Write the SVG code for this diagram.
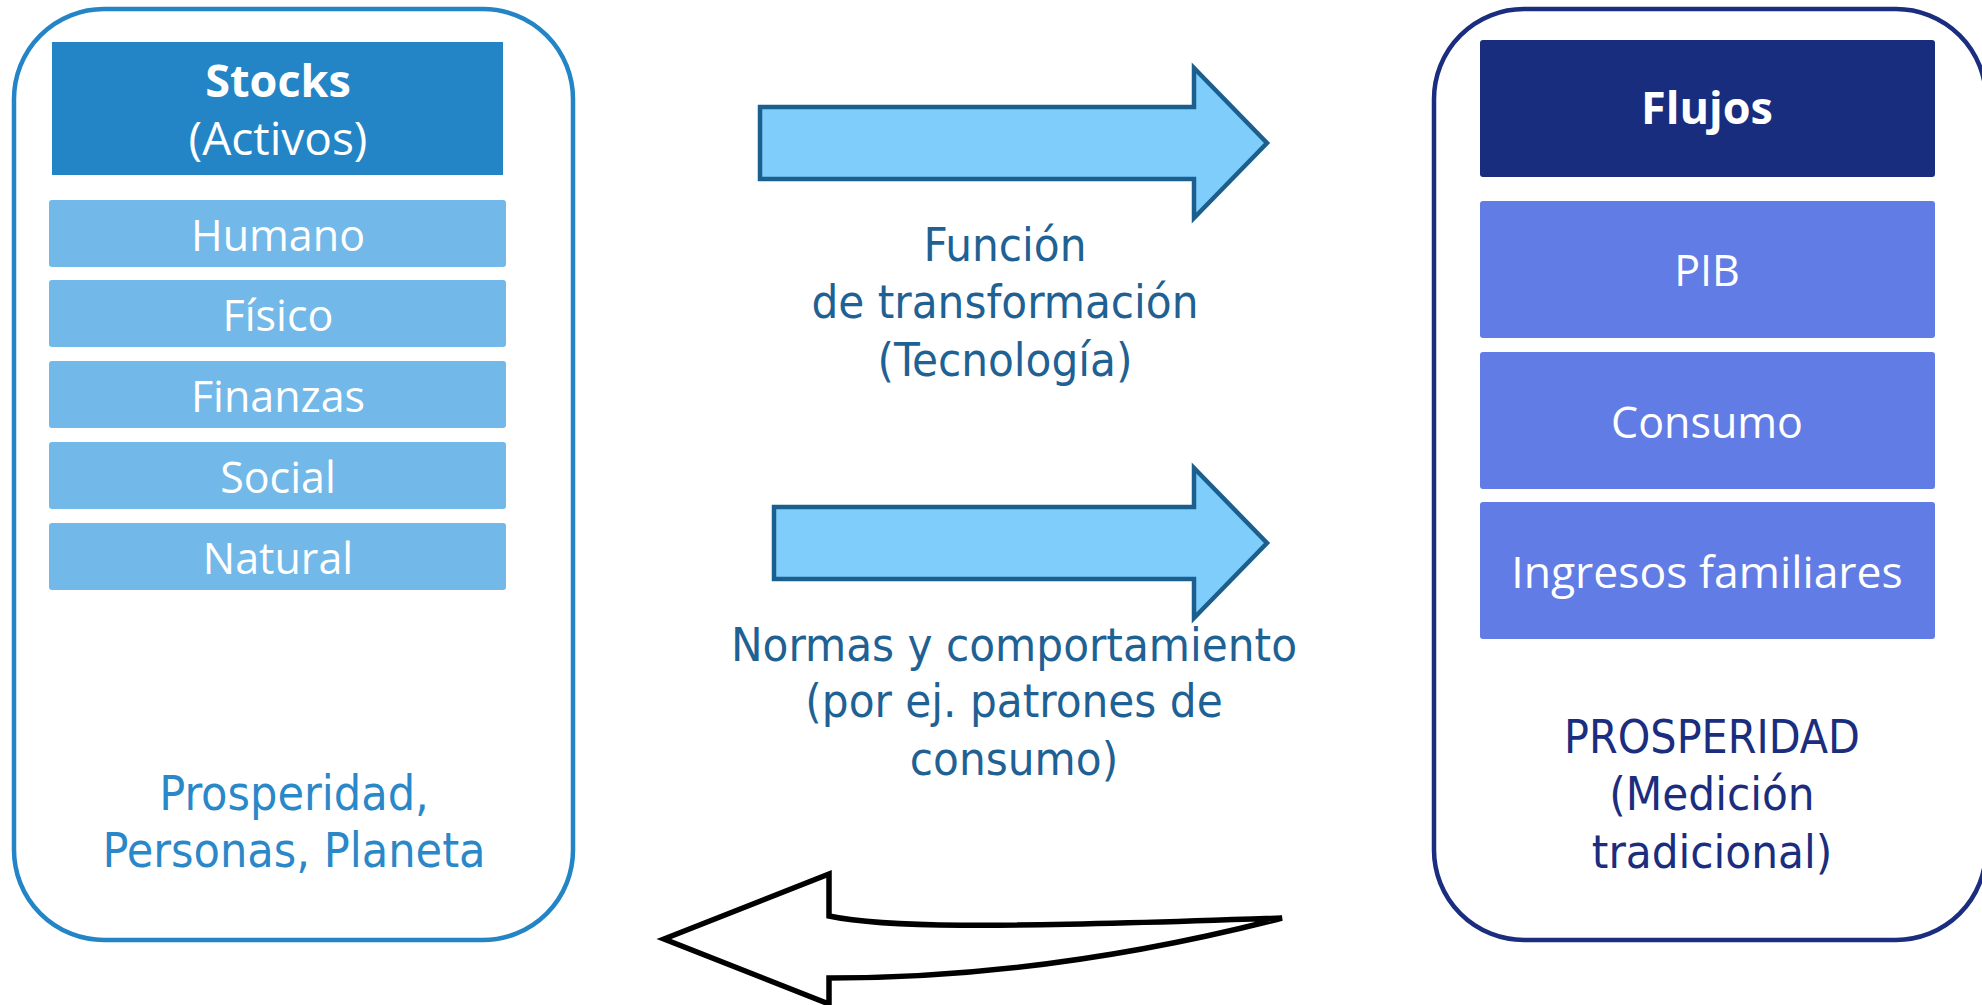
<svg xmlns="http://www.w3.org/2000/svg" width="1982" height="1005" viewBox="0 0 1982 1005">
<style>
.wt{font-family:"Open Sans","Noto Sans","DejaVu Sans",sans-serif;fill:#ffffff;text-anchor:middle;font-size:43px}
.hd{font-size:45px}
.bd{font-weight:bold}
.ct{font-family:"DejaVu Sans Condensed","DejaVu Sans",sans-serif;font-stretch:condensed;text-anchor:middle;font-size:47px}
.item-l{fill:#72B8E8}
.item-r{fill:#617CE5}
.barrow{fill:#7FCDFB;stroke:#1B5F8F;stroke-width:4.5;stroke-linejoin:miter}
</style>
<rect width="1982" height="1005" fill="#ffffff"/>

<g id="stocks-panel">
  <rect x="14" y="9" width="559" height="931" rx="90" ry="90" fill="#ffffff" stroke="#2385C6" stroke-width="4.5"/>
  <text class="ct" x="294" y="810" fill="#2A88C8" style="font-size:48px">Prosperidad,</text>
  <text class="ct" x="294" y="867" fill="#2A88C8" style="font-size:48px">Personas, Planeta</text>
</g>
<g id="stocks-header">
  <rect x="52" y="42" width="451" height="133" fill="#2385C6"/>
  <text class="wt hd bd" x="278" y="97">Stocks</text>
  <text class="wt hd" x="278" y="155" style="font-size:46px">(Activos)</text>
</g>
<g id="humano">
  <rect class="item-l" x="49" y="200" width="457" height="67" rx="3"/>
  <text class="wt" x="278" y="251">Humano</text>
</g>
<g id="fisico">
  <rect class="item-l" x="49" y="280" width="457" height="67" rx="3"/>
  <text class="wt" x="278" y="331">Físico</text>
</g>
<g id="finanzas">
  <rect class="item-l" x="49" y="361" width="457" height="67" rx="3"/>
  <text class="wt" x="278" y="412">Finanzas</text>
</g>
<g id="social">
  <rect class="item-l" x="49" y="442" width="457" height="67" rx="3"/>
  <text class="wt" x="278" y="493">Social</text>
</g>
<g id="natural">
  <rect class="item-l" x="49" y="523" width="457" height="67" rx="3"/>
  <text class="wt" x="278" y="574">Natural</text>
</g>

<g id="flujos-panel">
  <rect x="1434" y="9" width="552" height="931" rx="90" ry="90" fill="#ffffff" stroke="#1A2D7E" stroke-width="4.5"/>
  <text class="ct" x="1712" y="753" fill="#1A2D7E" style="font-size:46px">PROSPERIDAD</text>
  <text class="ct" x="1712" y="810" fill="#1A2D7E">(Medición</text>
  <text class="ct" x="1712" y="868" fill="#1A2D7E">tradicional)</text>
</g>
<g id="flujos-header">
  <rect x="1480" y="40" width="455" height="137" rx="3" fill="#182D7E"/>
  <text class="wt hd bd" x="1707" y="124">Flujos</text>
</g>
<g id="pib">
  <rect class="item-r" x="1480" y="201" width="455" height="137" rx="3"/>
  <text class="wt" x="1707" y="286">PIB</text>
</g>
<g id="consumo">
  <rect class="item-r" x="1480" y="352" width="455" height="137" rx="3"/>
  <text class="wt" x="1707" y="438">Consumo</text>
</g>
<g id="ingresos">
  <rect class="item-r" x="1480" y="502" width="455" height="137" rx="3"/>
  <text class="wt" x="1707" y="588" style="font-size:44.5px">Ingresos familiares</text>
</g>

<g id="connectors">
  <polygon class="barrow" points="760,107 1194,107 1194,68 1267,143 1194,218 1194,179 760,179"/>
  <polygon class="barrow" points="774,507 1194,507 1194,468 1267,543 1194,618 1194,579 774,579"/>
  <path d="M664,939 L829,874 L829,916 C880,927 980,929 1282,918 C1150,952 1000,978 829,978 L829,1004 Z" fill="#ffffff" stroke="#000000" stroke-width="5.5" stroke-linejoin="miter"/>
</g>

<g id="labels">
  <text class="ct" x="1005" y="261" fill="#1F6193">Función</text>
  <text class="ct" x="1005" y="318" fill="#1F6193">de transformación</text>
  <text class="ct" x="1005" y="376" fill="#1F6193">(Tecnología)</text>
  <text class="ct" x="1014" y="661" fill="#1F6193">Normas y comportamiento</text>
  <text class="ct" x="1014" y="717" fill="#1F6193">(por ej. patrones de</text>
  <text class="ct" x="1014" y="775" fill="#1F6193">consumo)</text>
</g>
</svg>
